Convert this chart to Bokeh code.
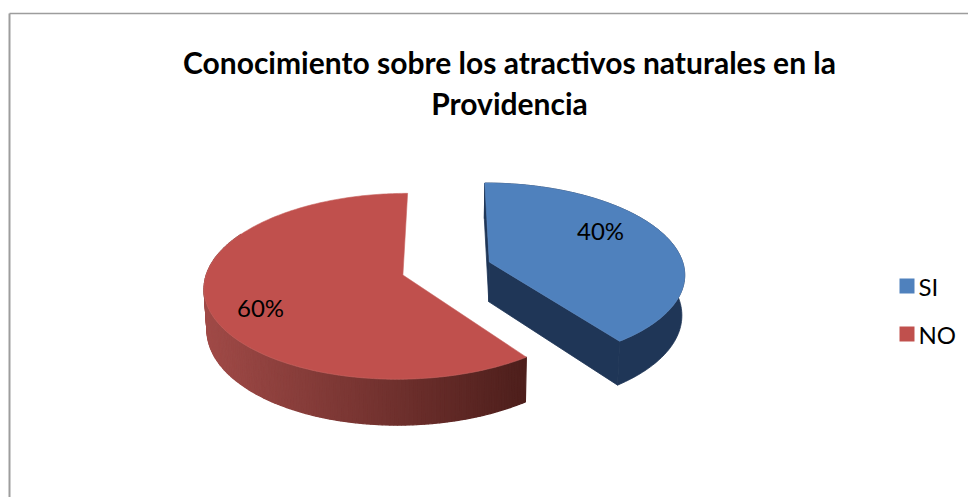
import math
from bokeh.plotting import figure
from bokeh.core.properties import value
from bokeh.embed import file_html
from bokeh.resources import INLINE

# ---- data
categories = ["SI", "NO"]
shares = [40, 60]
share_labels = ["40%", "60%"]
title_lines = ["Conocimiento sobre los atractivos naturales en la", "Providencia"]

# ---- styling / layout
W, H = 968, 497
FONT = "Lato"
TOP_COLORS = ["#4f81bd", "#c0504d"]
X0, Y0 = 446, 268            # projection centre
RX, RY = 195, 90             # radii
PERSP = 0.12
EXPLODE = 0.233
DEPTH = 40
ROT = 0.0                    # degrees clockwise from 12 o'clock


def project(wx, wz):
    s = 1 / (1 - PERSP * wz)
    return X0 + RX * wx * s, Y0 + RY * wz * s, s


def lerp(c1, c2, t):
    t = max(0, min(1, t))
    return "#%02x%02x%02x" % tuple(int(round(a + (b - a) * t)) for a, b in zip(c1, c2))


p = figure(width=W, height=H, x_range=(0, W), y_range=(H, 0),
           output_backend="svg", toolbar_location=None, min_border=0,
           outline_line_color=None, x_axis_type=None, y_axis_type=None)
p.grid.visible = False
p.background_fill_color = "white"

# frame of the chart area (only left and top edges lie inside the window)
p.line([9, 9], [H, 13], line_color="#9d9d9d", line_width=2)
p.line([9, W], [13, 13], line_color="#9d9d9d", line_width=1.5)

total = sum(shares)
start = ROT
slices = []
for i, share in enumerate(shares):
    sweep = 360 * share / total
    slices.append((start, start + sweep))
    start += sweep


def slice_geometry(a0, a1):
    mid = math.radians((a0 + a1) / 2)
    cx, cz = EXPLODE * math.sin(mid), -EXPLODE * math.cos(mid)
    n = max(2, int(a1 - a0))
    rim = []
    for k in range(n + 1):
        th = math.radians(a0 + (a1 - a0) * k / n)
        rim.append(project(cx + math.sin(th), cz - math.cos(th)))
    return project(cx, cz), rim


def lower(pt):
    x, y, s = pt
    return X0 + (x - X0) * 0.988, y + DEPTH * s


# blue slice: all sides one dark tone
apex, rim = slice_geometry(*slices[0])
dark = "#1f3657"
outline = [apex] + rim
xs, ys = [], []
for a, b in [(apex, rim[0]), (apex, rim[-1])]:
    la, lb = lower(a), lower(b)
    xs.append([a[0], b[0], lb[0], la[0]])
    ys.append([a[1], b[1], lb[1], la[1]])
low = [lower(r) for r in rim]
xs.append([r[0] for r in rim] + [q[0] for q in reversed(low)])
ys.append([r[1] for r in rim] + [q[1] for q in reversed(low)])
p.patches(xs, ys, fill_color=dark, line_color=dark, line_width=0.8)
p.patch([q[0] for q in outline], [q[1] for q in outline],
        fill_color=TOP_COLORS[0], line_color="#5b8ac4", line_width=0.6)

# red slice: side shaded from left to right
apex, rim = slice_geometry(*slices[1])
xs, ys, cols = [], [], []
for a, b in zip(rim[:-1], rim[1:]):
    la, lb = lower(a), lower(b)
    if max(a[1], b[1]) < apex[1] - 40:
        continue
    xs.append([a[0], b[0], lb[0], la[0]])
    ys.append([a[1], b[1], lb[1], la[1]])
    t = (a[0] - 205) / (523 - 205)
    cols.append(lerp((0xa0, 0x4a, 0x47), (0x4e, 0x1f, 0x1c), t))
p.patches(xs, ys, fill_color=cols, line_color=cols, line_width=1.2)
outline = [apex] + rim
p.patch([q[0] for q in outline], [q[1] for q in outline],
        fill_color=TOP_COLORS[1], line_color="#c76461", line_width=0.6)

# title
p.text([509, 509], [61, 102], text=title_lines,
       text_font=value(FONT), text_font_style="bold", text_font_size="30px",
       text_align="center", text_baseline="middle", text_color="#000000")

# slice labels
p.text([600, 260], [230, 307], text=share_labels,
       text_font=value(FONT), text_font_size="24px",
       text_align="center", text_baseline="middle", text_color="#000000")

# legend
leg_y = [286, 334]
p.quad(left=[899] * 2, right=[914] * 2,
       top=[y - 8 for y in leg_y], bottom=[y + 7 for y in leg_y],
       fill_color=TOP_COLORS, line_color=None)
p.text([918] * 2, leg_y, text=categories,
       text_font=value(FONT), text_font_size="24px",
       text_align="left", text_baseline="middle", text_color="#000000")

open("out.html", "w").write(file_html(p, INLINE))
